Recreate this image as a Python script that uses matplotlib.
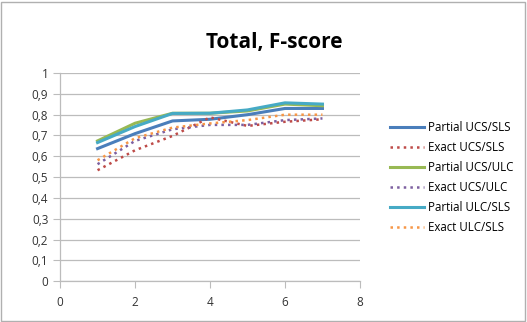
import matplotlib

matplotlib.use("Agg")
import matplotlib.pyplot as plt
from matplotlib.patches import Rectangle
from matplotlib.ticker import FuncFormatter

x = [1, 2, 3, 4, 5, 6, 7]
partial_ucs_sls = [0.637, 0.709, 0.770, 0.778, 0.800, 0.830, 0.830]
exact_ucs_sls = [0.533, 0.629, 0.698, 0.787, 0.746, 0.766, 0.778]
partial_ucs_ulc = [0.674, 0.759, 0.807, 0.807, 0.818, 0.851, 0.843]
exact_ucs_ulc = [0.562, 0.674, 0.730, 0.751, 0.751, 0.774, 0.782]
partial_ulc_sls = [0.666, 0.743, 0.806, 0.807, 0.823, 0.857, 0.851]
exact_ulc_sls = [0.581, 0.687, 0.738, 0.758, 0.774, 0.800, 0.800]

series = [
    ("Partial UCS/SLS", partial_ucs_sls, "#4a7ebb", "-"),
    ("Exact UCS/SLS", exact_ucs_sls, "#be4b48", ":"),
    ("Partial UCS/ULC", partial_ucs_ulc, "#98b954", "-"),
    ("Exact UCS/ULC", exact_ucs_ulc, "#7d60a0", ":"),
    ("Partial ULC/SLS", partial_ulc_sls, "#46aac5", "-"),
    ("Exact ULC/SLS", exact_ulc_sls, "#f79646", ":"),
]

plt.rcParams["font.family"] = ["Open Sans", "DejaVu Sans"]


def comma(v, pos):
    s = f"{v:.1f}".replace(".", ",")
    return s[:-2] if s.endswith(",0") else s


fig = plt.figure(figsize=(5.27, 3.22), dpi=100)
fig.patches.append(Rectangle((0.002, 0.003), 0.994, 0.992, transform=fig.transFigure,
                             fill=False, edgecolor="#b0b0b0", lw=1))
ax = fig.add_axes([0.114, 0.127, 0.569, 0.646])

for label, vals, color, ls in series:
    lw = 2.2 if ls == "-" else 1.8
    ax.plot(x, vals, color=color, ls=ls, lw=lw, label=label)

ax.set_xlim(0, 8)
ax.set_ylim(0, 1)
ax.set_xticks([0, 2, 4, 6, 8])
ax.set_yticks([i / 10 for i in range(11)])
ax.yaxis.set_major_formatter(FuncFormatter(comma))
ax.grid(axis="y", color="#bcbcbc", lw=0.9)
ax.set_axisbelow(True)
for s in ["top", "right"]:
    ax.spines[s].set_visible(False)
for s in ["left", "bottom"]:
    ax.spines[s].set_color("#bcbcbc")
    ax.spines[s].set_linewidth(0.9)
ax.tick_params(axis="y", length=5, color="#bcbcbc", labelsize=8.5, labelcolor="#333333")
ax.tick_params(axis="x", length=5, color="#bcbcbc", labelsize=8.5, labelcolor="#333333", pad=6)

fig.text(0.52, 0.868, "Total, F-score", ha="center", va="center", fontsize=15, fontweight="bold")

fig.legend(loc="upper left", bbox_to_anchor=(0.72, 0.655), frameon=False, fontsize=8.3,
           handlelength=3.0, labelspacing=0.6, handletextpad=0.3)

fig.savefig("out.png")
